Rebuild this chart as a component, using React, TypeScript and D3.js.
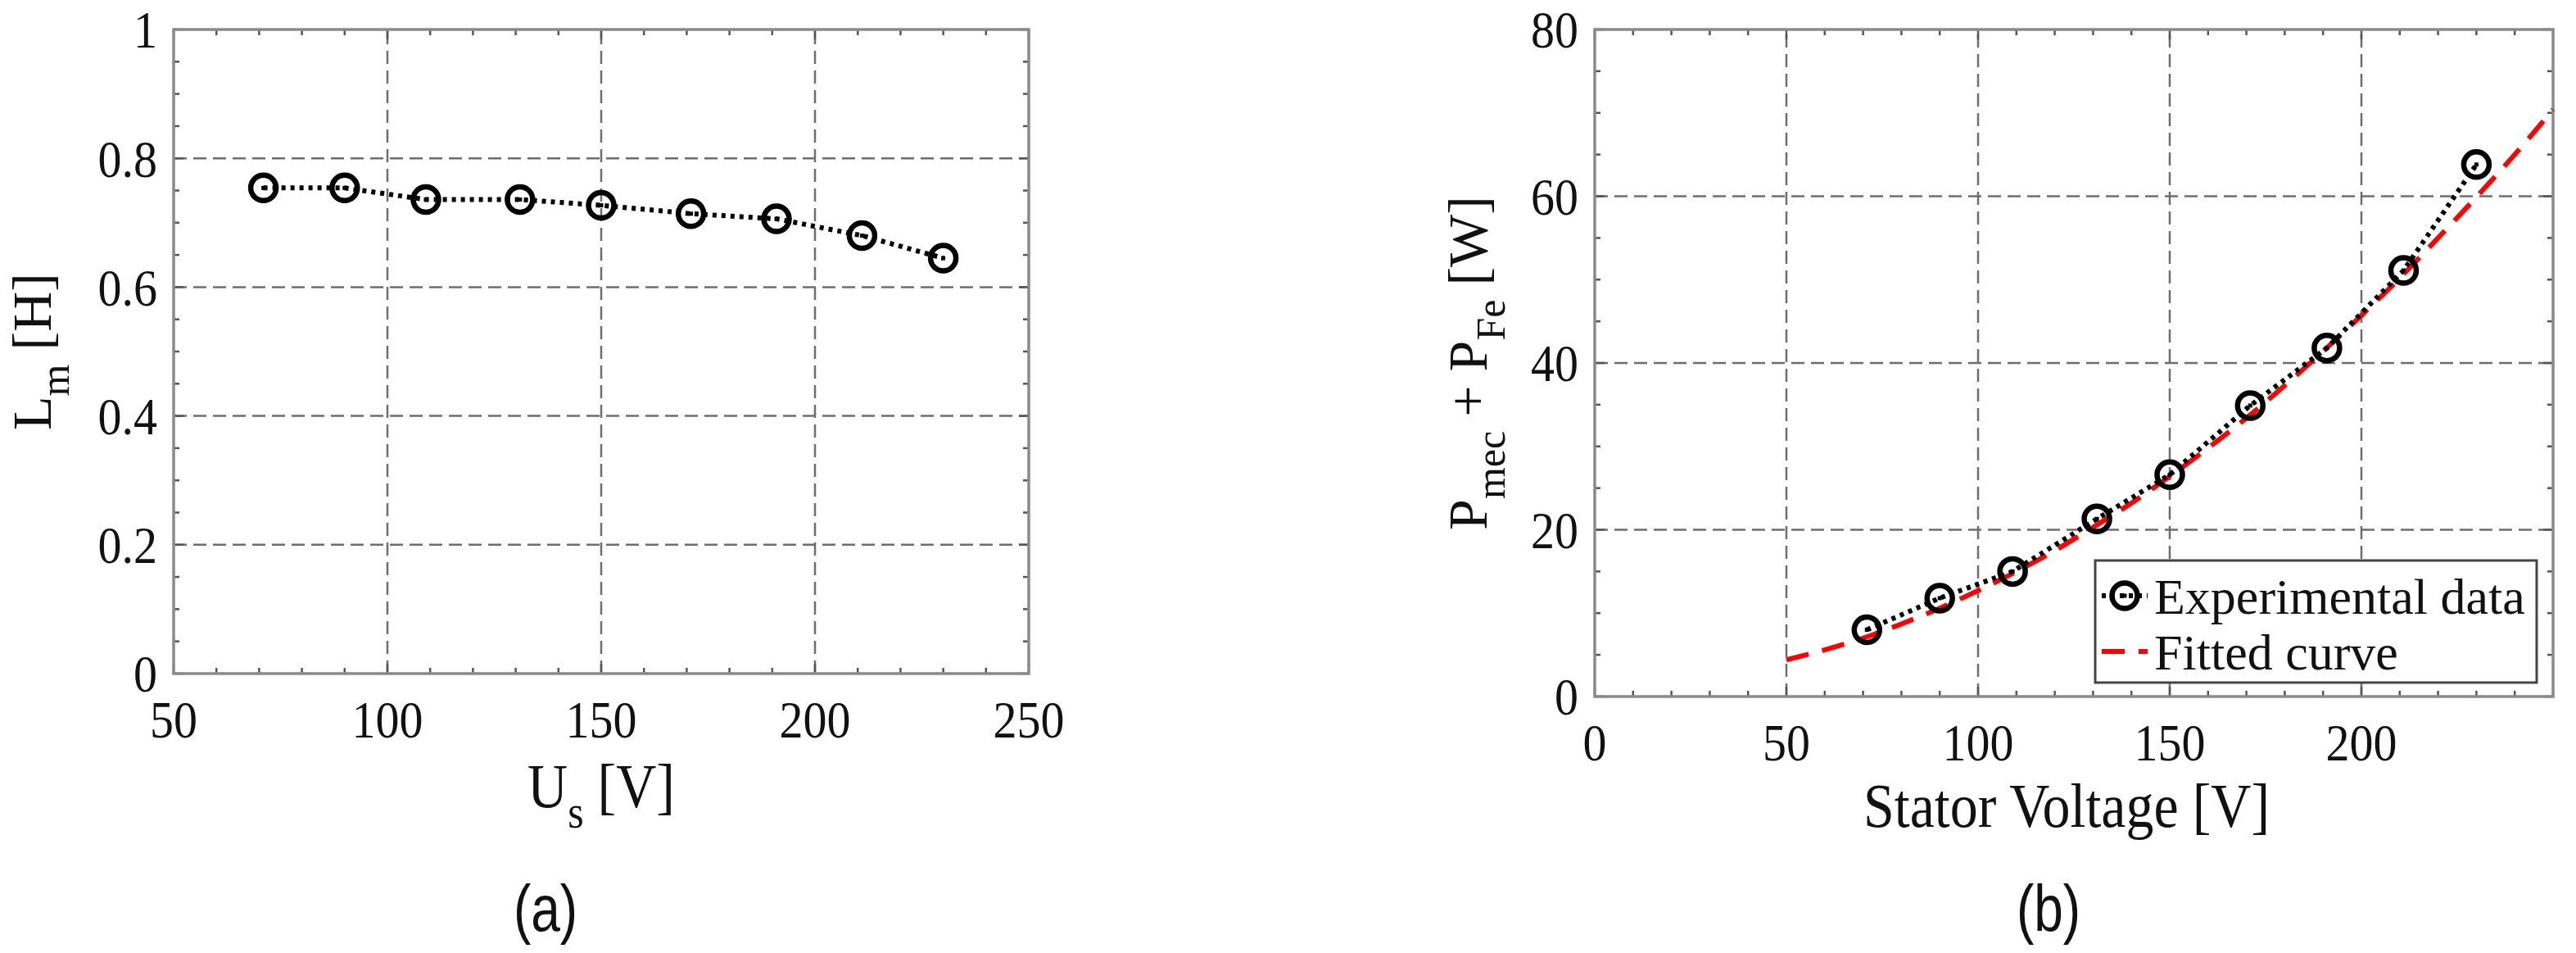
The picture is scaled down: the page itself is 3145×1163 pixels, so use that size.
import React, { useRef, useEffect } from "react";
import * as d3 from "d3";

// (a) magnetizing inductance vs stator voltage
const usA = [71, 90, 109, 131, 150, 171, 191, 211, 230];
const lmA = [0.754, 0.754, 0.736, 0.736, 0.727, 0.714, 0.706, 0.68, 0.645];
const xTicksA = [50, 100, 150, 200, 250];
const yTicksA = [0, 0.2, 0.4, 0.6, 0.8, 1];

// (b) mechanical + iron losses vs stator voltage
const usB = [71, 90, 109, 131, 150, 171, 191, 211, 230];
const lossB = [8, 11.8, 15, 21.3, 26.6, 34.9, 41.8, 51.1, 63.8];
const fitU = [50, 60, 70, 80, 90, 100, 110, 120, 130, 140, 150, 160, 170, 180, 190, 200, 210, 220, 230, 240, 250];
const fitP = [4.4, 5.6, 7.0, 8.7, 10.6, 12.7, 15.0, 17.5, 20.3, 23.2, 26.4, 29.8, 33.4, 37.3, 41.4, 45.7, 50.2, 55.0, 59.9, 65.0, 70.4];
const xTicksB = [0, 50, 100, 150, 200];
const yTicksB = [0, 20, 40, 60, 80];

const serif = '"Liberation Serif", "Times New Roman", serif';
const sans = '"Liberation Sans", Arial, sans-serif';
const TICK_FS = 58;
const LABEL_FS = 68;
// the source figure is a bit stretched vertically, so text is drawn taller
const STRETCH = 1.1;

function drawFrame(g, x, y, xTicks, yTicks, xMinor, yMinor) {
  const [x0, x1] = x.range();
  const [y0, y1] = y.range();

  // dashed grid
  const grid = g.append("g").attr("stroke", "#6e6e6e").attr("stroke-width", 2.5).attr("stroke-dasharray", "16 8");
  grid.selectAll(".gx")
    .data(xTicks.filter((t) => x(t) > x0 + 2 && x(t) < x1 - 2))
    .join("line")
    .attr("x1", (d) => x(d)).attr("x2", (d) => x(d))
    .attr("y1", y0).attr("y2", y1);
  grid.selectAll(".gy")
    .data(yTicks.filter((t) => y(t) < y0 - 2 && y(t) > y1 + 2))
    .join("line")
    .attr("y1", (d) => y(d)).attr("y2", (d) => y(d))
    .attr("x1", x0).attr("x2", x1);

  // inward ticks on all four sides
  const tk = g.append("g").attr("stroke", "#555").attr("stroke-width", 2.5);
  const xAll = xMinor.map((v) => ({ v, len: xTicks.includes(v) ? 12 : 7 }));
  const yAll = yMinor.map((v) => ({ v, len: yTicks.some((t) => Math.abs(t - v) < 1e-9) ? 12 : 7 }));
  tk.selectAll(".tb").data(xAll).join("line")
    .attr("x1", (d) => x(d.v)).attr("x2", (d) => x(d.v))
    .attr("y1", y0).attr("y2", (d) => y0 - d.len);
  tk.selectAll(".tt").data(xAll).join("line")
    .attr("x1", (d) => x(d.v)).attr("x2", (d) => x(d.v))
    .attr("y1", y1).attr("y2", (d) => y1 + d.len);
  tk.selectAll(".tl").data(yAll).join("line")
    .attr("y1", (d) => y(d.v)).attr("y2", (d) => y(d.v))
    .attr("x1", x0).attr("x2", (d) => x0 + d.len);
  tk.selectAll(".tr").data(yAll).join("line")
    .attr("y1", (d) => y(d.v)).attr("y2", (d) => y(d.v))
    .attr("x1", x1).attr("x2", (d) => x1 - d.len);

  // box
  g.append("rect")
    .attr("x", x0).attr("y", y1)
    .attr("width", x1 - x0).attr("height", y0 - y1)
    .attr("fill", "none").attr("stroke", "#8a8a8a").attr("stroke-width", 3.5);

  // tick labels
  g.append("g").selectAll("text").data(xTicks).join("text")
    .attr("transform", (d) => `translate(${x(d)},${y0 + 78}) scale(1,${STRETCH})`)
    .attr("text-anchor", "middle")
    .attr("font-family", serif).attr("font-size", TICK_FS).attr("fill", "#111")
    .text((d) => d);
  g.append("g").selectAll("text").data(yTicks).join("text")
    .attr("transform", (d) => `translate(${x0 - 20},${y(d)}) scale(1,${STRETCH})`)
    .attr("dy", "0.35em")
    .attr("text-anchor", "end")
    .attr("font-family", serif).attr("font-size", TICK_FS).attr("fill", "#111")
    .text((d) => d);
}

function labelWithSubs(g, parts, transform) {
  const t = g.append("text")
    .attr("font-family", serif).attr("font-size", LABEL_FS).attr("fill", "#111")
    .attr("text-anchor", "middle")
    .attr("transform", transform);
  let shifted = 0;
  parts.forEach(([s, sub]) => {
    const ts = t.append("tspan").text(s);
    if (sub) {
      ts.attr("font-size", 50).attr("dy", 22 - shifted);
      shifted = 22;
    } else {
      ts.attr("dy", -shifted);
      shifted = 0;
    }
  });
  return t;
}

function drawMarkers(g, pts) {
  g.append("g").selectAll("circle").data(pts).join("circle")
    .attr("cx", (d) => d[0]).attr("cy", (d) => d[1]).attr("r", 15.5)
    .attr("fill", "none").attr("stroke", "#000").attr("stroke-width", 6.5);
  g.append("g").selectAll("rect").data(pts).join("rect")
    .attr("x", (d) => d[0] - 2.5).attr("y", (d) => d[1] - 2.5)
    .attr("width", 5).attr("height", 5).attr("fill", "#000");
}

function drawSeries(g, x, y, xs, ys) {
  const pts = xs.map((v, i) => [x(v), y(ys[i])]);
  g.append("path")
    .attr("d", d3.line()(pts))
    .attr("fill", "none").attr("stroke", "#000")
    .attr("stroke-width", 6).attr("stroke-dasharray", "5 6");
  drawMarkers(g, pts);
}

const App = () => {
  const ref = useRef(null);

  useEffect(() => {
    const svg = d3.select(ref.current);
    svg.selectAll("*").remove();

    // ---------- panel (a)
    const xa = d3.scaleLinear().domain([50, 250]).range([212, 1256]);
    const ya = d3.scaleLinear().domain([0, 1]).range([822, 36]);
    const ga = svg.append("g");
    drawFrame(ga, xa, ya, xTicksA, yTicksA, d3.range(50, 251, 10), d3.range(0, 1.0001, 0.05));
    drawSeries(ga, xa, ya, usA, lmA);
    labelWithSubs(ga, [["U"], ["s", true], [" [V]"]], `translate(734,985) scale(1,1.12)`);
    labelWithSubs(ga, [["L"], ["m", true], [" [H]"]], "translate(62,429) rotate(-90)");
    ga.append("text").attr("transform", "translate(666,1136) scale(1,1.25)").attr("text-anchor", "middle")
      .attr("font-family", sans).attr("font-size", 64).attr("fill", "#111").text("(a)");

    // ---------- panel (b)
    const xb = d3.scaleLinear().domain([0, 250]).range([1947, 3117]);
    const yb = d3.scaleLinear().domain([0, 80]).range([850, 36]);
    const gb = svg.append("g");
    drawFrame(gb, xb, yb, xTicksB, yTicksB, d3.range(0, 251, 10), d3.range(0, 81, 5));

    const fitLine = d3.line().x((d, i) => xb(fitU[i])).y((d) => yb(d)).curve(d3.curveMonotoneX);
    gb.append("path")
      .attr("d", fitLine(fitP))
      .attr("fill", "none").attr("stroke", "#ff0000")
      .attr("stroke-width", 6).attr("stroke-dasharray", "28 17");
    drawSeries(gb, xb, yb, usB, lossB);

    labelWithSubs(gb, [["Stator Voltage [V]"]], "translate(2523,1009) scale(1,1.12)");
    labelWithSubs(gb, [["P"], ["mec", true], [" + P"], ["Fe", true], [" [W]"]], "translate(1815,443) rotate(-90)");
    gb.append("text").attr("transform", "translate(2501,1136) scale(1,1.25)").attr("text-anchor", "middle")
      .attr("font-family", sans).attr("font-size", 64).attr("fill", "#111").text("(b)");

    // legend
    const lg = gb.append("g");
    lg.append("rect").attr("x", 2558).attr("y", 684).attr("width", 539).attr("height", 149)
      .attr("fill", "#fff").attr("stroke", "#444").attr("stroke-width", 3);
    lg.append("line").attr("x1", 2566).attr("x2", 2622).attr("y1", 727).attr("y2", 727)
      .attr("stroke", "#000").attr("stroke-width", 6).attr("stroke-dasharray", "5 6");
    drawMarkers(lg, [[2594, 727]]);
    lg.append("line").attr("x1", 2566).attr("x2", 2622).attr("y1", 795).attr("y2", 795)
      .attr("stroke", "#ff0000").attr("stroke-width", 6).attr("stroke-dasharray", "28 17");
    lg.append("text").attr("x", 2630).attr("y", 749)
      .attr("font-family", serif).attr("font-size", 62).attr("fill", "#111").text("Experimental data");
    lg.append("text").attr("x", 2630).attr("y", 817)
      .attr("font-family", serif).attr("font-size", 62).attr("fill", "#111").text("Fitted curve");
  }, []);

  return (
    <svg
      ref={ref}
      width={3145}
      height={1163}
      style={{ position: "absolute", left: 0, top: 0, background: "#fff" }}
    />
  );
};

export default App;
